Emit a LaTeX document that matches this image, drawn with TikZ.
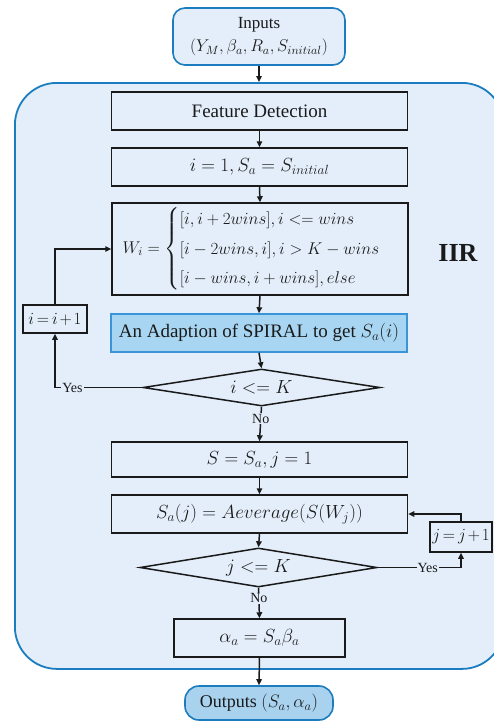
\RequirePackage{fix-cm}
\documentclass[tikz,border=0pt]{standalone}
\usepackage{amsmath}
\usepackage{fontspec}
\setmainfont{Liberation Serif}
\usetikzlibrary{arrows.meta,shapes.geometric}
\definecolor{bgblue}{HTML}{E3EEFA}
\definecolor{frameblue}{HTML}{1B7DBF}
\definecolor{spiralfill}{HTML}{A8D6F2}
\definecolor{spiralline}{HTML}{3A95D8}
\definecolor{outfill}{HTML}{A9D2EF}
\definecolor{ink}{HTML}{1A1A1A}
\begin{document}
\begin{tikzpicture}[x=1pt,y=-1pt,
  stepbox/.style={draw=ink, line width=1.5pt, minimum width=296pt, minimum height=38pt, inner sep=2pt, font=\fontsize{19}{23}\selectfont, text=ink},
  decision/.style={shape=diamond, draw=ink, line width=1.5pt, aspect=6, inner sep=0pt, minimum width=237pt, font=\fontsize{19}{23}\selectfont, text=ink},
  smallbox/.style={draw=ink, line width=1.5pt, inner sep=0pt, font=\fontsize{17}{20}\selectfont, text=ink},
  terminal/.style={draw=frameblue, line width=1.6pt, align=center, text=ink},
  arr/.style={-{Triangle[length=6pt,width=5.5pt]}, line width=1.5pt, draw=ink},
  lab/.style={fill=bgblue, inner sep=1pt, font=\fontsize{14}{16}\selectfont, text=ink}
]
\useasboundingbox (0,0) rectangle (494,721);
\fill[white] (0,0) rectangle (494,721);
\begin{scope}
\clip (0,0) rectangle (494,721);
\node[draw=frameblue, fill=bgblue, line width=1.8pt, rounded corners=42pt, minimum width=489pt, minimum height=586pt, anchor=north west, inner sep=0pt] (iir) at (14,82) {};
\end{scope}

\node[terminal, fill=bgblue, rounded corners=12pt, minimum width=172pt, minimum height=57pt, font=\fontsize{17}{23}\selectfont] (in) at (259,36.5) {Inputs\\$(Y_M,\beta_a,R_a,S_{initial})$};

\node[stepbox] (fd) at (259.5,111) {Feature Detection};
\node[stepbox] (init) at (259.5,167) {$i=1,S_a=S_{initial}$};
\node[stepbox, minimum height=92pt, font=\fontsize{17}{21}\selectfont] (W) at (260,249) {$W_i=\begin{cases}[i,i+2wins],i<=wins\\[4pt][i-2wins,i],i>K-wins\\[4pt][i-wins,i+wins],else\end{cases}$};
\node[stepbox, fill=spiralfill, draw=spiralline] (sp) at (259,333) {An Adaption of SPIRAL to get $S_a(i)$};
\node[decision, minimum height=37pt] (d1) at (261.5,387.5) {$i<=K$};
\node[stepbox, minimum height=35pt] (S) at (259.5,459.5) {$S=S_a,j=1$};
\node[stepbox] (Saj) at (259.5,514) {$S_a(j)=Aeverage(S(W_j))$};
\node[decision, minimum height=39pt] (d2) at (258.5,567.5) {$j<=K$};
\node[stepbox, minimum width=171pt] (alpha) at (259.5,638) {$\alpha_a=S_a\beta_a$};
\node[terminal, fill=outfill, rounded corners=14pt, minimum width=148pt, minimum height=34pt, font=\fontsize{18}{22}\selectfont] (out) at (259,703) {Outputs $(S_a,\alpha_a)$};

\node[smallbox, minimum width=64pt, minimum height=28pt] (inc) at (55,319) {$\thickmuskip=3mu \medmuskip=2mu i=i+1$};
\node[smallbox, minimum width=62pt, minimum height=30pt] (incj) at (461,537) {$\thickmuskip=3mu \medmuskip=2mu j=j+1$};

\node[font=\fontsize{26}{30}\selectfont\bfseries, text=ink] (lbl) at (458,253) {IIR};

\draw[arr] (in.south) -- (in.south |- iir.north);
\draw[arr] (fd.south) -- (init.north);
\draw[arr] (init.south) -- (W.north);
\draw[arr] (W.south) -- (sp.north);
\draw[arr] (sp.south) -- (d1.north);
\draw[arr] (d1.south) -- node[lab, pos=0.35]{No} (S.north);
\draw[arr] (S.south) -- (Saj.north);
\draw[arr] (Saj.south) -- (d2.north);
\draw[arr] (d2.south) -- node[lab, pos=0.35]{No} (alpha.north);
\draw[arr] (alpha.south) -- (out.north);

\draw[arr] (d1.west) -| node[lab, pos=0.4]{Yes} (inc.south);
\draw[arr] (inc.north) |- (W.west);
\draw[arr] (d2.east) -| node[lab, pos=0.3]{Yes} (incj.south);
\draw[arr] (incj.north) |- (Saj.east);
\end{tikzpicture}
\end{document}
